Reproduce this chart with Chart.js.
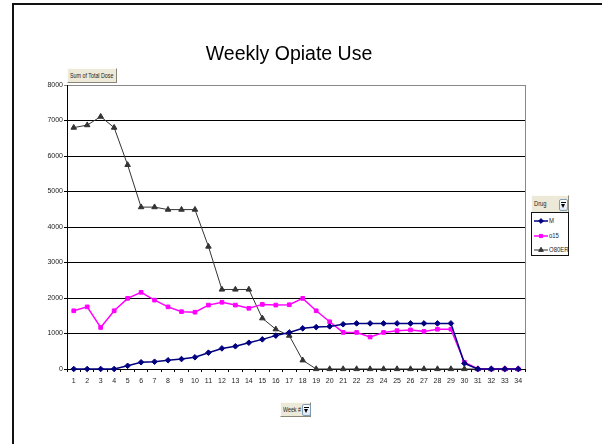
<!DOCTYPE html>
<html><head><meta charset="utf-8">
<script src="https://cdn.jsdelivr.net/npm/chart.js@4/dist/chart.umd.min.js"></script>
<style>
html,body{margin:0;padding:0;background:#fff;overflow:hidden;}
#wrap{position:relative;width:602px;height:444px;overflow:hidden;background:#fff;}
#frame{position:absolute;left:12px;top:3px;width:700px;height:500px;border-left:2px solid #111;border-top:2px solid #111;box-sizing:border-box;}
#chart{position:absolute;left:0;top:0;}
.btn{position:absolute;background:#ece9d8;border:1px solid;border-color:#fdfcf6 #8a877a #8a877a #fdfcf6;box-sizing:border-box;
 font-family:'Liberation Sans',Arial,sans-serif;color:#222;white-space:nowrap;overflow:hidden;}
.btn span{display:inline-block;transform:scaleX(0.82);transform-origin:0 50%;}
.dd{position:absolute;width:9px;height:12px;border:1px solid #7f9db9;border-radius:2px;box-sizing:border-box;background:linear-gradient(#fff,#dfe6f2);}
.dd:after{content:'';position:absolute;left:1px;top:4px;border-left:2.5px solid transparent;border-right:2.5px solid transparent;border-top:4px solid #000;}
.dd:before{content:'';position:absolute;left:1px;top:2px;width:5px;height:1px;background:#000;}
#legend{position:absolute;left:531px;top:212px;width:38px;height:44px;border:1px solid #111;box-sizing:border-box;background:#fff;}
.li{position:absolute;left:1px;height:10px;font-family:'Liberation Sans',Arial,sans-serif;font-size:7px;color:#222;line-height:10px;white-space:nowrap;}
.li canvas{position:absolute;left:0;top:0;}
.li span{position:absolute;left:16px;top:0;display:inline-block;transform:scaleX(0.85);transform-origin:0 50%;}
</style></head>
<body>
<div id="wrap">
<div id="frame"></div>
<canvas id="chart" width="602" height="444"></canvas>
<div class="btn" style="left:67px;top:68px;width:50px;height:15px;font-size:6.5px;line-height:13px;padding-left:2px;"><span>Sum of Total Dose</span></div>
<div class="btn" style="left:531px;top:195px;width:38px;height:18px;font-size:7px;line-height:15px;padding-left:2px;"><span>Drug</span></div>
<div class="dd" style="left:559px;top:199px;"></div>
<div id="legend"></div>
<div class="btn" style="left:280px;top:402px;width:31px;height:15px;font-size:6.5px;line-height:13px;padding-left:2px;"><span>Week #</span></div>
<div class="dd" style="left:302px;top:404px;"></div>
</div>
<script>
const weeks = ['1','2','3','4','5','6','7','8','9','10','11','12','13','14','15','16','17','18','19','20','21','22','23','24','25','26','27','28','29','30','31','32','33','34'];
const seriesNames = ['M','o15','O80ER'];
const valuesM = [0,0,0,0,90,190,205,245,280,330,460,580,640,740,835,940,1030,1145,1180,1200,1260,1285,1285,1285,1285,1285,1285,1285,1285,160,0,0,0,0];
const valuesO15 = [1640,1750,1170,1640,1990,2160,1940,1750,1615,1600,1800,1880,1800,1710,1820,1800,1810,1990,1640,1330,1030,1030,900,1030,1080,1100,1060,1120,1120,190,0,0,0,0];
const valuesO80ER = [6800,6870,7110,6800,5750,4560,4560,4490,4490,4490,3450,2240,2240,2240,1430,1120,940,245,0,0,0,0,0,0,0,0,0,0,0,0,0,0,0,0];
const yTickValues = [0,1000,2000,3000,4000,5000,6000,7000,8000];

const colors = ['#000080','#ff00ff','#333333'];
const styles = ['rectRot','rect','triangle'];
const radii = [2.8,2.6,3.2];
const widths = [1.5,1.5,1];
const allValues = [valuesM, valuesO15, valuesO80ER];
const tickFont = "'Liberation Sans',Arial,sans-serif";

const datasets = seriesNames.map((n,i)=>({
  label:n, data:allValues[i], borderColor:colors[i], backgroundColor:colors[i],
  borderWidth:widths[i], pointStyle:styles[i], pointRadius:radii[i], pointBorderWidth:1,
  pointBackgroundColor:colors[i], pointBorderColor:colors[i], tension:0, clip:false
}));

const plotBorder = {
  id:'plotBorder',
  beforeDatasetsDraw(chart){
    const {ctx, chartArea:a} = chart;
    ctx.save();
    ctx.strokeStyle = '#888';
    ctx.lineWidth = 1;
    ctx.beginPath();
    ctx.moveTo(Math.round(a.right)+0.5, a.top);
    ctx.lineTo(Math.round(a.right)+0.5, a.bottom);
    ctx.stroke();
    ctx.restore();
  }
};

new Chart(document.getElementById('chart'), {
  type:'line',
  data:{labels:weeks, datasets},
  options:{
    responsive:false, animation:false, devicePixelRatio:1,
    layout:{padding:{left:45,right:69,top:10,bottom:45}},
    plugins:{
      legend:{display:false}, tooltip:{enabled:false},
      title:{display:true, text:'Weekly Opiate Use', color:'#000',
        font:{family:"'Liberation Sans',Arial,sans-serif", size:19.5, weight:'normal'},
        padding:{top:33,bottom:18.6}}
    },
    scales:{
      x:{
        offset:true,
        grid:{display:true, drawOnChartArea:false, drawTicks:true, tickLength:3, offset:true, color:'#000'},
        border:{display:true, color:'#000', width:1},
        ticks:{font:{family:tickFont,size:7}, color:'#222', padding:5, maxRotation:0, autoSkip:false},
        afterFit:s=>{s.height=30;}
      },
      y:{
        min:0, max:8000,
        afterBuildTicks:s=>{s.ticks = yTickValues.map(v=>({value:v}));},
        grid:{color:c=> (c.tick && c.tick.value===8000) ? '#888' : '#000', tickLength:3, drawTicks:true, lineWidth:1},
        border:{display:true, color:'#000', width:1},
        ticks:{font:{family:tickFont,size:7}, color:'#222', padding:1, callback:v=>String(v)},
        afterFit:s=>{s.width=22;}
      },
      yRight:{
        position:'right', display:true, min:0, max:8000,
        grid:{display:false, drawTicks:false}, border:{display:false}, ticks:{display:false},
        afterFit:s=>{s.width=8;}
      }
    }
  },
  plugins:[plotBorder]
});

// legend built from the same series definitions
const leg = document.getElementById('legend');
const rowY = [3,18,32];
seriesNames.forEach((n,i)=>{
  const row = document.createElement('div');
  row.className='li'; row.style.top = rowY[i]+'px'; row.style.width='36px';
  const cv = document.createElement('canvas'); cv.width=15; cv.height=10;
  const c = cv.getContext('2d');
  c.strokeStyle = colors[i]; c.fillStyle = colors[i]; c.lineWidth = widths[i];
  c.beginPath(); c.moveTo(1,5); c.lineTo(15,5); c.stroke();
  if (Chart.helpers && Chart.helpers.drawPoint) {
    c.lineWidth = 1;
    Chart.helpers.drawPoint(c, {pointStyle:styles[i], rotation:0, radius:radii[i]*0.85, borderWidth:1}, 8, 5);
  }
  const sp = document.createElement('span'); sp.textContent = n;
  row.appendChild(cv); row.appendChild(sp); leg.appendChild(row);
});
</script>
</body></html>
